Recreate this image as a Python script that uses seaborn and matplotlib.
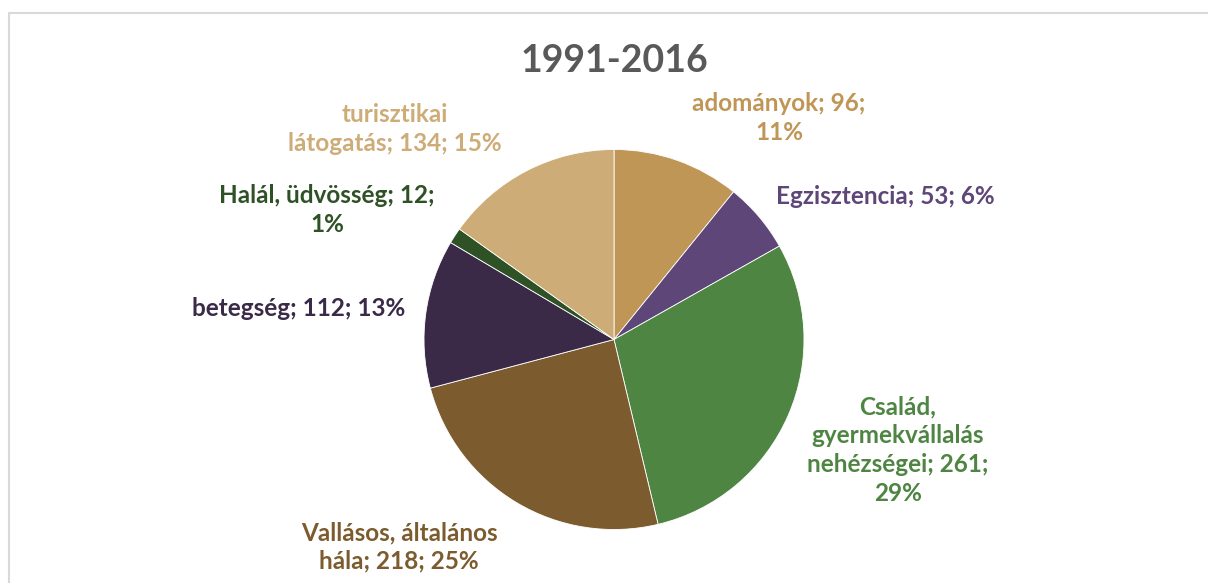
import matplotlib
matplotlib.use("Agg")
import matplotlib.pyplot as plt
import seaborn as sns
from matplotlib.lines import Line2D

# ---- data ----
title = "1991-2016"
categories = ["adományok", "Egzisztencia", "Család,\ngyermekvállalás\nnehézségei",
              "Vallásos, általános\nhála", "betegség", "Halál, üdvösség", "turisztikai\nlátogatás"]
values = [96, 53, 261, 218, 112, 12, 134]
percent_labels = ["11%", "6%", "29%", "25%", "13%", "1%", "15%"]
label_texts = [
    "adományok; 96;\n11%",
    "Egzisztencia; 53; 6%",
    "Család,\ngyermekvállalás\nnehézségei; 261;\n29%",
    "Vallásos, általános\nhála; 218; 25%",
    "betegség; 112; 13%",
    "Halál, üdvösség; 12;\n1%",
    "turisztikai\nlátogatás; 134; 15%",
]

# ---- styles / positions ----
colors = ["#C09657", "#5E4778", "#4E8542", "#7C5C2E", "#3A2A48", "#2E5226", "#CDAC78"]
label_colors = ["#C09657", "#5E4778", "#4E8542", "#7C5C2E", "#3A2A48", "#2E5226", "#CDAC78"]
# label block centres in image pixel coords (x, y from top)
label_pos = [(779, 118), (885, 196), (898, 450), (399, 547), (299, 309), (327, 210), (395, 129)]

sns.set_theme(style="white")
plt.rcParams["font.family"] = ["Lato", "DejaVu Sans"]

W, H = 1208, 583
fig = plt.figure(figsize=(W / 100, H / 100), dpi=100)
ax = fig.add_axes([0, 0, 1, 1])
ax.set_xlim(0, W)
ax.set_ylim(0, H)
ax.set_aspect("equal")
ax.axis("off")

cx, cy, r = 614, H - 339.5, 190
wedges, _ = ax.pie(values, colors=colors, startangle=90, counterclock=False,
                   center=(cx, cy), radius=r, frame=True,
                   wedgeprops=dict(linewidth=0.6, edgecolor="#ffffff"))
ax.set_xlim(0, W)
ax.set_ylim(0, H)
ax.axis("off")

ax.text(614, H - 61, title, ha="center", va="center", fontsize=27,
        fontweight="bold", color="#595959")

for txt, (x, y), c in zip(label_texts, label_pos, label_colors):
    ax.text(x, H - y, txt, ha="center", va="center", fontsize=17.5,
            fontweight="bold", color=c, linespacing=1.3, multialignment="center")

# chart border (top and left visible)
fig.add_artist(Line2D([9 / W, 1], [1 - 13 / H, 1 - 13 / H], color="#D9D9D9", lw=1.5))
fig.add_artist(Line2D([9 / W, 9 / W], [0, 1 - 13 / H], color="#D9D9D9", lw=1.5))

fig.savefig("out.png", dpi=100, facecolor="white")
